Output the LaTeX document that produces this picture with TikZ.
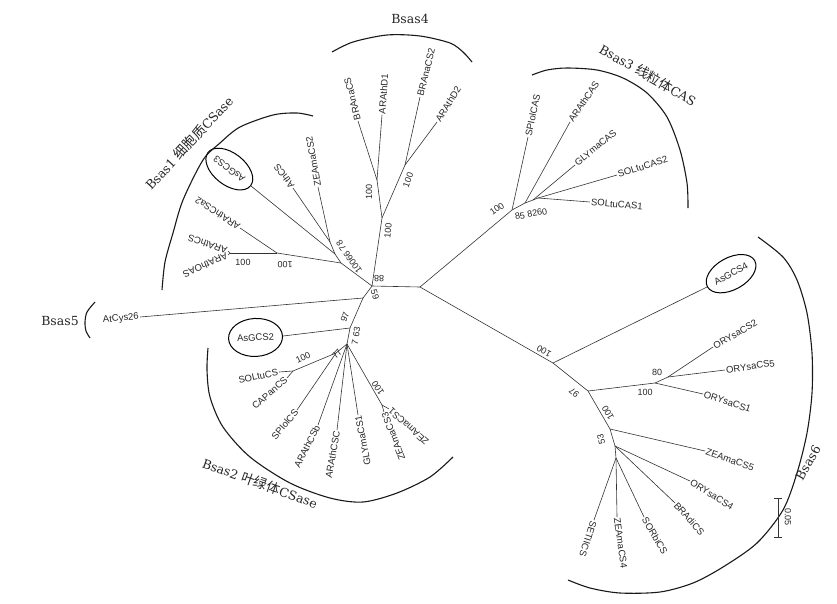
\documentclass[tikz,border=0pt]{standalone}
\usepackage{fontspec}
\usetikzlibrary{shapes.geometric}
\setmainfont{Liberation Sans}
\newfontfamily\cjk{Noto Sans CJK SC}
\newfontfamily\cladeserif{DejaVu Serif}
\newcommand\zh[1]{{\cjk\fontsize{13.5}{14}\selectfont #1}}
\tikzset{
  branch/.style={line width=0.6pt, black!80},
  clade/.style={line width=1.1pt, black!90},
  leaf/.style={font=\fontsize{9.5}{10}\selectfont, text=black!85, inner sep=1pt},
  boot/.style={font=\fontsize{9}{10}\selectfont, text=black!85, inner sep=0pt},
  cladename/.style={font=\cladeserif\fontsize{12.5}{14}\selectfont, text=black!85, inner sep=0pt},
  marked/.style={draw, ellipse, line width=1pt, inner sep=0pt, minimum width=54, minimum height=32},
}

\begin{document}
\begin{tikzpicture}[x=1pt, y=-1pt]
    \useasboundingbox (0,0) rectangle (837,603);
    % Junctions of the tree
    \coordinate (A)  at (372,286);                 % centre junction
    \coordinate (B)  at (420,287);                 % right junction
    \coordinate (Q1) at (382,218);                 % Bsas4 stem
    \coordinate (Q2) at (377,180);
    \coordinate (Q3) at (405,165);
    \coordinate (G)  at (512,210);                 % Bsas3 stem
    \coordinate (G1) at (525,203);
    \coordinate (G2) at (533,200);
    \coordinate (G3) at (538,198);
    \coordinate (H)  at (553,363);                 % Bsas6 stem
    \coordinate (I)  at (588,391);
    \coordinate (J)  at (655,383);
    \coordinate (K)  at (668,377);
    \coordinate (L)  at (610,429);
    \coordinate (M)  at (615,446);
    \coordinate (N)  at (616,458);
    \coordinate (P1) at (341,263);                 % Bsas1 stem
    \coordinate (P2) at (335,254);
    \coordinate (P3) at (330,242);
    \coordinate (R1) at (277,253);
    \coordinate (R2) at (230,253);
    \coordinate (C1) at (363,298);                 % Bsas5 junction
    \coordinate (C2) at (350,328);                 % Bsas2 stem
    \coordinate (D)  at (347,344);
    \coordinate (E)  at (336,353);
    \coordinate (S1) at (293,371);
    \coordinate (Z)  at (382,405);
    % Leaves: Bsas4
    \node[leaf, anchor=west, rotate=104] (brana)   at (358,121) {BRAnaCS};
    \node[leaf, anchor=west, rotate=86]  (arad1)   at (382,115) {ARAthD1};
    \node[leaf, anchor=west, rotate=76]  (brana2)  at (420,97)  {BRAnaCS2};
    \node[leaf, anchor=west, rotate=58]  (arad2)   at (437,122) {ARAthD2};
    % Leaves: Bsas3
    \node[leaf, anchor=west, rotate=78]  (spiolcas) at (528,137) {SPIolCAS};
    \node[leaf, anchor=west, rotate=56]  (aracas)   at (570,122) {ARAthCAS};
    \node[leaf, anchor=west, rotate=40]  (glycas)   at (575,165) {GLYmaCAS};
    \node[leaf, anchor=west, rotate=18]  (solcas2)  at (617,175) {SOLtuCAS2};
    \node[leaf, anchor=west, rotate=-5]  (solcas1)  at (590,202) {SOLtuCAS1};
    % Leaves: Bsas6
    \node[leaf, marked, anchor=west, rotate=29] (asgcs4) at (707,287) {AsGCS4};
    \node[leaf, anchor=west, rotate=30]   (ory2)  at (713,347) {ORYsaCS2};
    \node[leaf, anchor=west, rotate=8]    (ory5)  at (725,370) {ORYsaCS5};
    \node[leaf, anchor=west, rotate=-18]  (ory1)  at (703,394) {ORYsaCS1};
    \node[leaf, anchor=west, rotate=-19]  (zea5)  at (705,451) {ZEAmaCS5};
    \node[leaf, anchor=west, rotate=-32]  (ory4)  at (690,481) {ORYsaCS4};
    \node[leaf, anchor=west, rotate=-48]  (bradi) at (675,503) {BRAdiCS};
    \node[leaf, anchor=west, rotate=-60]  (sorbi) at (644,517) {SORbiCS};
    \node[leaf, anchor=west, rotate=-82]  (zea4)  at (617,517) {ZEAmaCS4};
    \node[leaf, anchor=west, rotate=-108] (setii) at (594,520) {SETIICS};
    % Leaves: Bsas1
    \node[leaf, marked, anchor=west, rotate=142] (asgcs3) at (251,186) {AsGCS3};
    \node[leaf, anchor=west, rotate=127] (athcs)   at (293,188) {AthCS};
    \node[leaf, anchor=west, rotate=100] (zea2)    at (318,187) {ZEAmaCS2};
    \node[leaf, anchor=west, rotate=147] (aracsa2) at (240,228) {ARAthCSa2};
    \node[leaf, anchor=west, rotate=162] (aracs)   at (228,251) {ARAthCS};
    \node[leaf, anchor=west, rotate=204] (araoas)  at (228,255) {ARAthOAS};
    % Leaves: Bsas5 and Bsas2
    \node[leaf, anchor=east, rotate=5]   (atcys)   at (140,317) {AtCys26};
    \node[leaf, marked, anchor=east, rotate=3, minimum height=38] (asgcs2) at (283,336) {AsGCS2};
    \node[leaf, anchor=east, rotate=12]  (soltu)   at (279,372) {SOLtuCS};
    \node[leaf, anchor=east, rotate=41]  (capan)   at (287,378) {CAPanCS};
    \node[leaf, anchor=east, rotate=50]  (spiolcs) at (297,410) {SPIolCS};
    \node[leaf, anchor=east, rotate=63]  (aracsb)  at (318,425) {ARAthCSb};
    \node[leaf, anchor=east, rotate=80]  (aracsc)  at (337,430) {ARAthCSC};
    \node[leaf, anchor=east, rotate=101] (glycs1)  at (358,415) {GLYmaCS1};
    \node[leaf, anchor=east, rotate=111] (zea3)    at (384,412) {ZEAmaCS3};
    \node[leaf, anchor=east, rotate=138] (zea1)    at (389,409) {ZEAmaCS1};
    % Branches between junctions
    \foreach \u/\v in {A/B, A/Q1, Q1/Q2, Q1/Q3, B/G, G/G1, G1/G2, G2/G3, B/H, H/I, I/J, J/K,
                       I/L, L/M, M/N, A/P1, P1/P2, P2/P3, P1/R1, R1/R2, A/C1, C1/C2, C2/D,
                       D/E, E/S1, D/Z}
        \draw[branch] (\u) -- (\v);
    % Branches to the leaves
    \foreach \u/\v in {Q2/brana, Q2/arad1, Q3/brana2, Q3/arad2, G/spiolcas, G1/aracas,
                       G2/glycas, G3/solcas2, G3/solcas1, H/asgcs4, K/ory2, K/ory5, J/ory1,
                       L/zea5, M/ory4, M/bradi, N/sorbi, N/zea4, N/setii, P2/asgcs3,
                       P3/athcs, P3/zea2, R1/aracsa2, R2/aracs, R2/araoas}
        \draw[branch] (\u) -- (\v.west);
    \foreach \u/\v in {C1/atcys, C2/asgcs2, S1/soltu, S1/capan, E/spiolcs, D/aracsb,
                       D/aracsc, D/glycs1, Z/zea3, Z/zea1}
        \draw[branch] (\u) -- (\v.east);
    % Bootstrap values
    \node[boot, rotate=180] (b88)  at (379,279) {88};
    \node[boot, rotate=-75] (b59)  at (375,295) {59};
    \node[boot, rotate=85]  (bq1)  at (388,231) {100};
    \node[boot, rotate=90]  (bq2)  at (369,192) {100};
    \node[boot, rotate=70]  (bq3)  at (408,180) {100};
    \node[boot, rotate=35]  (bg)   at (497,209) {100};
    \node[boot, rotate=10]  (bg1)  at (531,214) {85 8260};
    \node[boot, rotate=150] (bh)   at (544,351) {100};
    \node[boot, rotate=140] (bi)   at (574,393) {97};
    \node[boot]             (bk)   at (657,372) {80};
    \node[boot]             (bj)   at (645,392) {100};
    \node[boot, rotate=120] (bl)   at (608,413) {100};
    \node[boot, rotate=105] (bm)   at (601,439) {53};
    \node[boot, rotate=125] (bp)   at (349,257) {10066 78};
    \node[boot, rotate=180] (br1)  at (285,265) {100};
    \node[boot]             (br2)  at (243,262) {100};
    \node[boot, rotate=70]  (bc2)  at (345,317) {97};
    \node[boot, rotate=80]  (bd)   at (356,336) {7 63};
    \node[boot, rotate=50]  (be)   at (337,354) {77};
    \node[boot, rotate=25]  (bs1)  at (303,358) {100};
    \node[boot, rotate=123] (bz)   at (378,388) {100};
    % Clade brackets
    \draw[clade] plot[smooth] coordinates {(332,52) (353,42) (387,35) (420,36) (450,43) (463,52) (472,62)};
    \draw[clade] plot[smooth] coordinates {(532,75) (547,70) (567,68) (597,70) (623,78) (647,93)
        (667,117) (680,150) (687,183) (688,208)};
    \draw[clade] plot[smooth] coordinates {(313,116) (297,113) (273,115) (240,127) (220,143)
        (203,160) (183,200) (173,233) (165,262) (162,290)};
    \draw[clade] plot[smooth] coordinates {(95,302) (87,312) (85,322) (86,331) (90,338)};
    \draw[clade] plot[smooth] coordinates {(208,348) (207,370) (210,397) (223,427) (250,457)
        (290,483) (330,498) (363,502) (397,493) (430,477) (453,457)};
    \draw[clade] plot[smooth] coordinates {(758,237) (783,257) (797,280) (807,313) (812,353)
        (812,393) (807,433) (797,473) (783,510) (757,543) (723,567) (693,583) (660,592)
        (620,593) (590,588) (568,580)};
    % Clade names
    \node[cladename]             (bsas4) at (410,19)  {Bsas4};
    \node[cladename, rotate=-30] (bsas3) at (648,75)  {Bsas3 \zh{线粒体}CAS};
    \node[cladename, rotate=47]  (bsas1) at (189,143) {Bsas1 \zh{细胞质}CSase};
    \node[cladename]             (bsas5) at (60,321)  {Bsas5};
    \node[cladename, rotate=-20] (bsas2) at (260,483) {Bsas2 \zh{叶绿体}CSase};
    \node[cladename, rotate=60]  (bsas6) at (808,463) {Bsas6};
    % Scale bar
    \coordinate (sb1) at (778,498);
    \coordinate (sb2) at (778,537);
    \draw[branch] (sb1) -- (sb2);
    \draw[branch] ([xshift=-4pt]sb1) -- ([xshift=4pt]sb1);
    \draw[branch] ([xshift=-4pt]sb2) -- ([xshift=4pt]sb2);
    \node[boot, rotate=-90] (sblabel) at (788,517) {0.05};
\end{tikzpicture}
\end{document}
